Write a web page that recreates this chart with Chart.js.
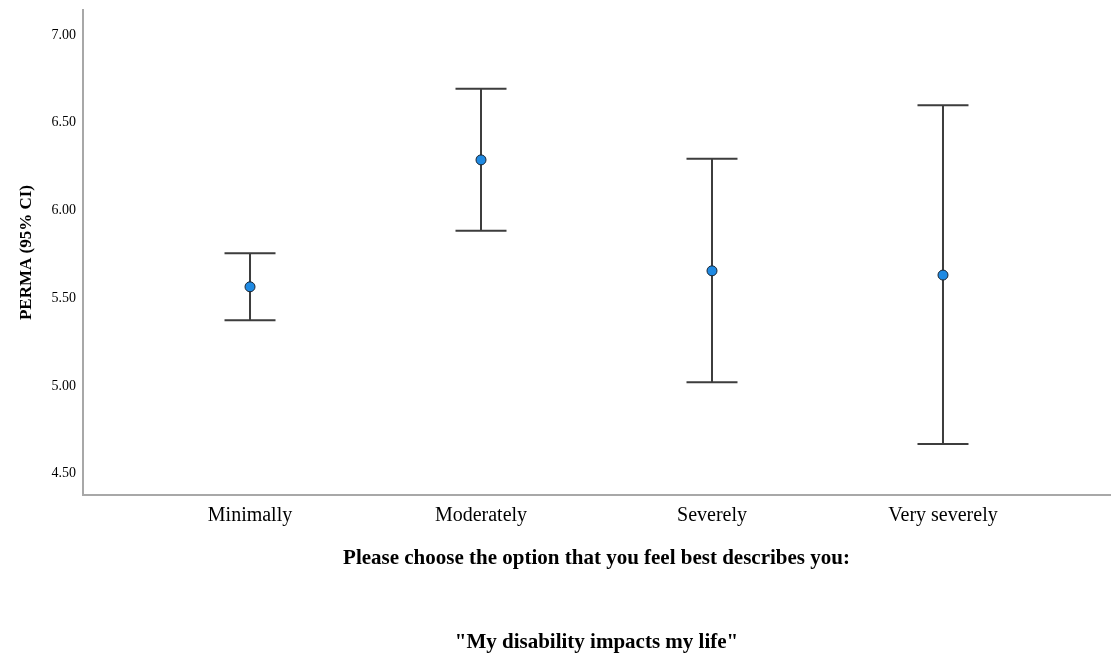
<!DOCTYPE html>
<html>
<head>
<meta charset="utf-8">
<script src="https://cdn.jsdelivr.net/npm/chart.js@4/dist/chart.umd.min.js"></script>
<style>
	body { margin: 0; background: #fff; }
	#wrap { width: 1112px; height: 654px; }
</style>
</head>
<body>
<div id="wrap"><canvas id="permaChart" width="1112" height="654"></canvas></div>
<script>
const categories = ['Minimally', 'Moderately', 'Severely', 'Very severely'];
const means = [5.565, 6.288, 5.656, 5.632];
const ciLower = [5.374, 5.885, 5.021, 4.670];
const ciUpper = [5.756, 6.694, 6.295, 6.599];
const yTicks = [4.5, 5.0, 5.5, 6.0, 6.5, 7.0];

const SERIF = '"Liberation Serif", "Times New Roman", serif';

// whiskers + caps for the 95% CI, drawn under the mean markers
const errorBars = {
	id: 'errorBars',
	beforeDatasetsDraw(chart) {
		const { ctx, scales: { x, y } } = chart;
		const capHalf = 25.5;
		ctx.save();
		ctx.strokeStyle = '#3d3d3d';
		ctx.lineWidth = 2;
		categories.forEach((c, i) => {
			const px = x.getPixelForValue(i + 1);
			const top = y.getPixelForValue(ciUpper[i]);
			const bot = y.getPixelForValue(ciLower[i]);
			ctx.beginPath();
			ctx.moveTo(px, top);
			ctx.lineTo(px, bot);
			ctx.moveTo(px - capHalf, top);
			ctx.lineTo(px + capHalf, top);
			ctx.moveTo(px - capHalf, bot);
			ctx.lineTo(px + capHalf, bot);
			ctx.stroke();
		});
		ctx.restore();
	}
};

// fixed axis sizes, and no extra room reserved for overhanging labels
const fixSize = (prop, size) => (scale) => {
	scale[prop] = size;
	scale.paddingTop = scale.paddingBottom = scale.paddingLeft = scale.paddingRight = 0;
};

const ctx = document.getElementById('permaChart').getContext('2d');

new Chart(ctx, {
	type: 'scatter',
	data: {
		datasets: [{
			label: 'PERMA',
			data: means.map((m, i) => ({ x: i + 1, y: m })),
			backgroundColor: '#1f8ae3',
			borderColor: '#1a2430',
			borderWidth: 1,
			pointRadius: 5
		}]
	},
	options: {
		responsive: false,
		animation: false,
		layout: {
			autoPadding: false,
			padding: { top: 10, right: 2, left: 0, bottom: 0 }
		},
		plugins: {
			legend: { display: false },
			tooltip: { enabled: false }
		},
		scales: {
			x: {
				type: 'linear',
				min: 0.277,
				max: 4.723,
				afterBuildTicks: (scale) => {
					scale.ticks = categories.map((c, i) => ({ value: i + 1 }));
				},
				afterFit: fixSize('height', 159),
				grid: { display: false, drawTicks: false },
				border: { display: true, color: '#a8a8a8', width: 2 },
				ticks: {
					padding: 9,
					color: '#000',
					font: { family: SERIF, size: 20 },
					callback: (v) => categories[v - 1]
				},
				title: {
					display: true,
					text: ['Please choose the option that you feel best describes you:', '', '', '"My disability impacts my life"'],
					color: '#000',
					padding: { top: 0, bottom: -3 },
					font: { family: SERIF, size: 21, weight: 'bold', lineHeight: '28px' }
				}
			},
			y: {
				min: 4.379,
				max: 7.142,
				afterBuildTicks: (scale) => {
					scale.ticks = yTicks.map((v) => ({ value: v }));
				},
				afterFit: fixSize('width', 83),
				grid: { display: false, drawTicks: false },
				border: { display: true, color: '#a8a8a8', width: 2 },
				ticks: {
					padding: 7,
					color: '#000',
					font: { family: SERIF, size: 14 },
					callback: (v) => v.toFixed(2)
				},
				title: {
					display: true,
					text: 'PERMA (95% CI)',
					color: '#000',
					padding: { top: 16, bottom: 0 },
					font: { family: SERIF, size: 17, weight: 'bold' }
				}
			}
		}
	},
	plugins: [errorBars]
});
</script>
</body>
</html>
